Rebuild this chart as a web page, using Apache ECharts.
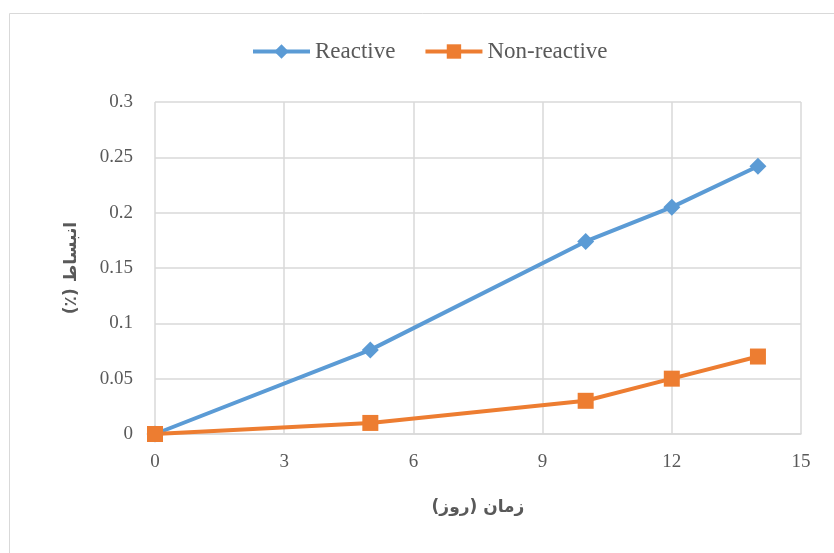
<!DOCTYPE html>
<html><head><meta charset="utf-8">
<script src="https://cdn.jsdelivr.net/npm/echarts@6/dist/echarts.min.js"></script>
<style>html,body{margin:0;padding:0;background:#fff}#c{width:834px;height:553px}</style>
</head><body><div id="c"></div>
<script>
const days = [0, 5, 10, 12, 14];
const reactive = [0, 0.076, 0.174, 0.205, 0.242];
const nonReactive = [0, 0.01, 0.03, 0.05, 0.07];
const seriesNames = ['Reactive', 'Non-reactive'];
const xTitle = 'زمان (روز)';
const yTitle = 'انبساط (٪)';

const RLM = '\u200F';
const chart = echarts.init(document.getElementById('c'));
const pairs = arr => days.map((d, i) => [d, arr[i]]);
chart.setOption({
  animation: false,
  graphic: [{type:'rect', shape:{x:9.5,y:13.5,width:840,height:560}, style:{fill:'none', stroke:'#d9d9d9', lineWidth:1}}],
  legend: {
    top: 35, left: 246, itemWidth: 57, itemHeight: 18, itemGap: 28,
    textStyle: {fontFamily: 'Liberation Serif', fontSize: 23, color: '#595959'},
    lineStyle: {width: 4},
    data: seriesNames
  },
  grid: {left: 155, right: 33, top: 102, bottom: 119},
  xAxis: {
    type: 'value', min: 0, max: 15, interval: 3,
    name: RLM + xTitle + RLM, nameLocation: 'middle', nameGap: 65,
    nameTextStyle: {fontFamily: 'DejaVu Sans', fontWeight: 'bold', fontSize: 17, color: '#595959'},
    axisLine: {show: true, lineStyle: {color: '#d9d9d9', width: 1.5}},
    axisTick: {show: false},
    axisLabel: {fontFamily: 'Liberation Serif', fontSize: 19, color: '#595959', margin: 19},
    splitLine: {show: true, lineStyle: {color: '#d9d9d9', width: 1.5}}
  },
  yAxis: {
    type: 'value', min: 0, max: 0.3, interval: 0.05,
    name: RLM + yTitle + RLM, nameLocation: 'middle', nameGap: 75, nameRotate: 90,
    nameTextStyle: {fontFamily: 'DejaVu Sans', fontWeight: 'bold', fontSize: 17, color: '#595959'},
    axisLine: {show: false}, axisTick: {show: false},
    axisLabel: {fontFamily: 'Liberation Serif', fontSize: 19, color: '#595959', margin: 22,
      formatter: v => String(Math.round(v*100)/100)},
    splitLine: {show: true, lineStyle: {color: '#d9d9d9', width: 1.5}}
  },
  series: [
    {name: seriesNames[0], type: 'line', data: pairs(reactive), symbol: 'diamond', symbolSize: 17,
     lineStyle: {color: '#5b9bd5', width: 4}, itemStyle: {color: '#5b9bd5'}},
    {name: seriesNames[1], type: 'line', data: pairs(nonReactive), symbol: 'rect', symbolSize: 16,
     lineStyle: {color: '#ed7d31', width: 4}, itemStyle: {color: '#ed7d31'}}
  ]
});
</script></body></html>
